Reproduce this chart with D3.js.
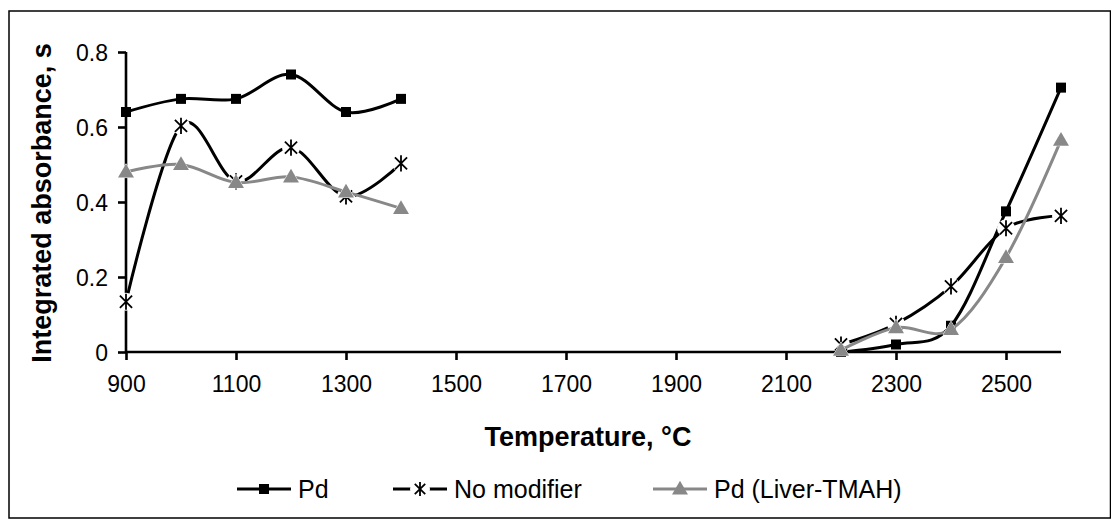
<!DOCTYPE html>
<html><head><meta charset="utf-8">
<script src="https://cdn.jsdelivr.net/npm/d3@7"></script>
<style>body{margin:0;background:#fff}svg{display:block}text{font-family:"Liberation Sans",Arial,sans-serif}</style>
</head><body><svg id="c" width="1111" height="520"></svg>
<script>
const temps = [900,1000,1100,1200,1300,1400,1500,1600,1700,1800,1900,2000,2100,2200,2300,2400,2500,2600];
const pd    = [0.64,0.675,0.675,0.74,0.64,0.675,null,null,null,null,null,null,null,0.0,0.02,0.07,0.375,0.705];
const noMod = [0.134,0.603,0.455,0.545,0.415,0.503,null,null,null,null,null,null,null,0.02,0.075,0.175,0.33,0.363];
const liver = [0.48,0.50,0.452,0.467,0.427,0.383,null,null,null,null,null,null,null,0.005,0.065,0.06,0.252,0.565];
const xTicks = [900,1100,1300,1500,1700,1900,2100,2300,2500];
const yTicks = [0,0.2,0.4,0.6,0.8];
const seriesNames = ["Pd","No modifier","Pd (Liver-TMAH)"];

const svg = d3.select("#c");
svg.append("rect").attr("x",9).attr("y",11).attr("width",1101.5).attr("height",507)
  .attr("fill","none").attr("stroke","#000").attr("stroke-width",1.5);

const x = d3.scaleLinear().domain([900,2600]).range([126,1061]);
const y = d3.scaleLinear().domain([0,0.8]).range([352,52]);

// axes
const ax = svg.append("g").attr("transform","translate(0,352)")
  .call(d3.axisBottom(x).tickValues(xTicks).tickSize(8).tickPadding(10).tickFormat(d3.format("d")));
const ay = svg.append("g").attr("transform","translate(126,0)")
  .call(d3.axisLeft(y).tickValues(yTicks).tickSize(8).tickPadding(10).tickFormat(d=>d===0?"0":d3.format(".1f")(d)));
[ax,ay].forEach(g=>{
  g.select(".domain").attr("stroke","#000").attr("stroke-width",2.6);
  g.selectAll(".tick line").attr("stroke","#000").attr("stroke-width",2.6);
  g.selectAll(".tick text").attr("font-size",23).attr("fill","#000").attr("font-family","Liberation Sans, Arial, sans-serif");
});
ax.select(".domain").attr("d","M126,0H1061");
ay.select(".domain").attr("d","M0,52V352");
ax.selectAll(".tick text").attr("dy","0.95em");
ay.selectAll(".tick text").attr("dy","0.35em");

// titles
svg.append("text").attr("x",588).attr("y",446).attr("text-anchor","middle")
  .attr("font-size",27).attr("font-weight","bold").text("Temperature, °C");
svg.append("text").attr("transform","translate(51,203) rotate(-90)").attr("text-anchor","middle")
  .attr("font-size",27).attr("font-weight","bold").text("Integrated absorbance, s");

const curve = d3.curveCardinal.tension(0);
const line = d3.line().defined(d=>d.v!=null).x(d=>x(d.t)).y(d=>y(d.v)).curve(curve);
const mk = arr => temps.map((t,i)=>({t,v:arr[i]}));

const starPath = r => {
  const a = r*0.87;
  return `M${-a},${-a}L${a},${a}M${-a},${a}L${a},${-a}M0,${-r*1.15}L0,${r*1.15}`;
};
function drawMarker(g, type, cx, cy, legend){
  if(type==="sq"){
    g.append("rect").attr("x",cx-5).attr("y",cy-5).attr("width",10).attr("height",10).attr("fill","#000");
  } else if(type==="star"){
    const r = legend?6:7;
    g.append("circle").attr("cx",cx).attr("cy",cy).attr("r",legend?10:9).attr("fill","#fff");
    g.append("path").attr("transform",`translate(${cx},${cy})`).attr("d",starPath(r))
      .attr("stroke","#000").attr("stroke-width",1.8).attr("fill","none");
  } else {
    g.append("path").attr("transform",`translate(${cx},${cy+1})`)
      .attr("d",d3.symbol(d3.symbolTriangle, 110)()).attr("fill","#888")
      .attr("stroke","#fff").attr("stroke-width",legend?0:1).attr("paint-order","stroke");
  }
}
const series = [
  {name:seriesNames[0], data:mk(pd), color:"#000", m:"sq"},
  {name:seriesNames[1], data:mk(noMod), color:"#000", m:"star"},
  {name:seriesNames[2], data:mk(liver), color:"#888", m:"tri"}
];
series.forEach(s=>{
  const g = svg.append("g");
  g.append("path").attr("d",line(s.data)).attr("fill","none").attr("stroke",s.color).attr("stroke-width",3);
  s.data.filter(d=>d.v!=null).forEach(d=>drawMarker(g,s.m,x(d.t),y(d.v),false));
});

// legend
const legX = [237,393,653];
series.forEach((s,i)=>{
  const g = svg.append("g");
  const x0 = legX[i], ly = 489;
  g.append("line").attr("x1",x0).attr("x2",x0+54).attr("y1",ly).attr("y2",ly).attr("stroke",s.color).attr("stroke-width",3);
  drawMarker(g,s.m,x0+27,ly,true);
  g.append("text").attr("x",x0+61).attr("y",ly).attr("dy","0.36em").attr("font-size",25).text(s.name);
});
</script></body></html>
